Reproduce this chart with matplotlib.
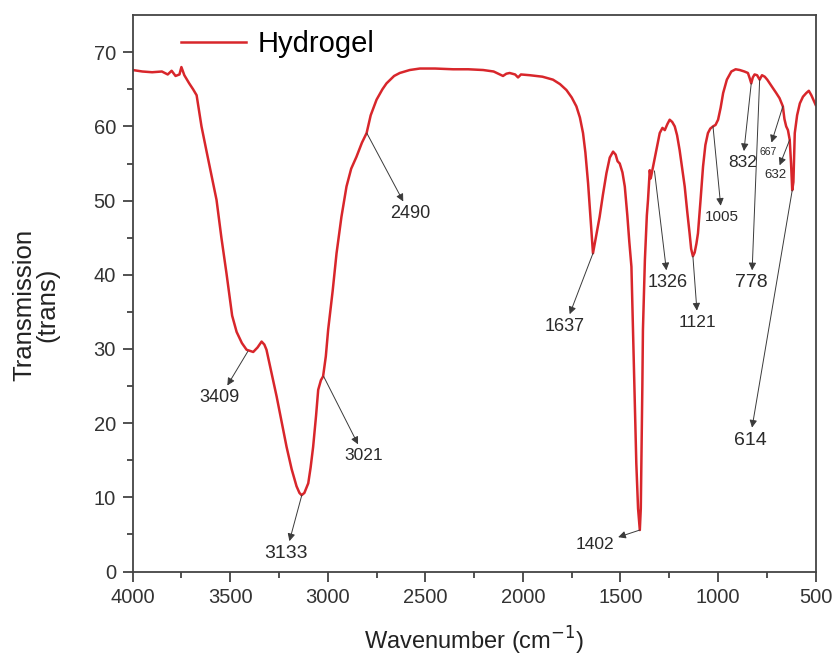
import matplotlib
matplotlib.use("Agg")
import matplotlib.pyplot as plt

plt.rcParams['font.family'] = ['Liberation Sans', 'DejaVu Sans']

# spectrum (cm-1, transmission)
wavenumber = [4000, 3950, 3900, 3850, 3820, 3800, 3780, 3760, 3750, 3735, 3710, 3690,
              3672, 3655, 3647, 3620, 3570, 3545, 3519, 3490, 3467, 3440, 3416, 3382,
              3360, 3339, 3325, 3314, 3290, 3262, 3235, 3211, 3185, 3160, 3145, 3134,
              3120, 3100, 3088, 3075, 3060, 3049, 3035, 3024, 3010, 2998, 2975, 2955,
              2930, 2904, 2880, 2853, 2825, 2801, 2780, 2750, 2720, 2699, 2660, 2631,
              2580, 2528, 2450, 2358, 2280, 2204, 2150, 2102, 2085, 2068, 2040, 2025,
              2010, 1965, 1900, 1846, 1810, 1777, 1750, 1726, 1708, 1692, 1680, 1666,
              1652, 1641, 1630, 1620, 1607, 1590, 1572, 1555, 1538, 1525, 1515, 1504,
              1490, 1478, 1465, 1455, 1444, 1436, 1427, 1419, 1410, 1401, 1396, 1393,
              1388, 1385, 1375, 1365, 1359, 1350, 1345, 1333, 1316, 1299, 1285, 1273,
              1260, 1248, 1235, 1222, 1210, 1197, 1185, 1171, 1158, 1146, 1138, 1129,
              1120, 1111, 1103, 1090, 1077, 1065, 1052, 1040, 1026, 1013, 1000, 987,
              974, 955, 932, 910, 889, 865, 847, 838, 830, 822, 813, 800,
              787, 775, 761, 748, 735, 720, 702, 685, 668, 660, 651, 642,
              633, 626, 620, 614, 607, 595, 581, 565, 548, 535, 522, 510, 500]
transmission = [67.6, 67.4, 67.3, 67.4, 67.0, 67.5, 66.8, 67.0, 68.0, 66.9, 65.8, 65.0,
                64.2, 61.3, 60.0, 56.5, 50.1, 45.0, 40.2, 34.5, 32.3, 30.8, 29.9, 29.6,
                30.2, 31.0, 30.6, 29.9, 27.0, 23.6, 20.0, 16.8, 13.8, 11.5, 10.6, 10.3,
                10.6, 11.9, 14.0, 16.8, 21.0, 24.5, 25.8, 26.3, 29.0, 32.6, 37.8, 42.9,
                47.8, 51.9, 54.3, 55.9, 57.8, 59.1, 61.5, 63.6, 65.0, 65.8, 66.8, 67.2,
                67.6, 67.8, 67.8, 67.7, 67.7, 67.6, 67.4, 66.8, 67.1, 67.2, 67.0, 66.6,
                67.0, 66.9, 66.7, 66.3, 65.7, 64.9, 63.9, 62.7, 61.2, 59.1, 56.5, 52.3,
                47.0, 42.9, 44.5, 46.0, 47.8, 50.8, 53.7, 55.8, 56.6, 56.2, 55.3, 55.0,
                53.8, 51.9, 48.0, 44.5, 41.1, 32.6, 23.0, 14.6, 8.5, 5.6, 8.5, 14.6,
                25.0, 32.6, 42.0, 48.0, 50.1, 54.1, 53.0, 54.6, 56.8, 59.1, 59.8, 59.5,
                60.3, 60.9, 60.6, 60.0, 58.8, 56.8, 54.5, 51.9, 48.5, 45.6, 43.5, 42.5,
                43.0, 44.2, 45.6, 50.0, 54.6, 57.5, 59.1, 59.7, 60.0, 60.2, 60.9, 62.5,
                64.5, 66.3, 67.4, 67.7, 67.6, 67.4, 67.2, 66.5, 65.8, 66.6, 67.0, 66.9,
                66.3, 66.9, 66.7, 66.3, 65.8, 65.2, 64.5, 63.8, 62.7, 61.0, 60.0, 59.5,
                58.2, 55.0, 51.4, 52.5, 59.1, 61.5, 63.1, 64.0, 64.5, 64.8, 64.2, 63.5, 62.9]

# peak labels: text, point on curve, label position, font size
peak_labels = ['3409', '3133', '3021', '2490', '1637', '1402', '1326', '1121',
               '1005', '832', '778', '667', '632', '614']
peak_xy = [(3409, 29.7), (3133, 10.3), (3021, 26.3), (2800, 59.1), (1641, 42.9),
           (1401, 5.6), (1326, 54.0), (1129, 42.5), (1026, 60.0), (830, 65.8),
           (787, 66.3), (668, 62.7), (633, 58.2), (620, 51.4)]
label_xy = [(3553, 23.4), (3214, 2.4), (2815, 15.6), (2579, 48.2), (1785, 33.0),
            (1632, 3.6), (1257, 38.9), (1104, 33.6), (981, 47.8), (874, 55.1),
            (828, 38.9), (741, 56.6), (705, 53.4), (837, 17.7)]
label_size = [13, 14, 12.5, 13, 13, 12.5, 13, 12.5, 11, 12.5, 14, 7.5, 9.5, 14]

fig = plt.figure(figsize=(8.34, 6.57), dpi=100)
ax = fig.add_axes([0.159, 0.130, 0.819, 0.847])

ax.plot(wavenumber, transmission, color='#d8262b', lw=1.8, label='Hydrogel')

for lab, p, t, fs in zip(peak_labels, peak_xy, label_xy, label_size):
    ax.annotate(lab, xy=p, xytext=t, ha='center', va='center',
                fontsize=fs, color='#2a2a2a',
                arrowprops=dict(arrowstyle='<|-', color='#3a3a3a', lw=0.7,
                                mutation_scale=11, shrinkA=1, shrinkB=0))

ax.set_xlim(4000, 500)
ax.set_ylim(0, 75)
ax.set_xticks(range(4000, 499, -500))
ax.set_xticks(range(3750, 500, -500), minor=True)
ax.set_yticks(range(0, 71, 10))
ax.set_yticks(range(5, 75, 10), minor=True)
ax.tick_params(which='both', direction='out', top=False, right=False,
               labelsize=14.5, colors='#333333', width=1.2)
ax.tick_params(which='major', length=7, pad=5)
ax.tick_params(which='minor', length=4)
for s in ax.spines.values():
    s.set_linewidth(1.3)
    s.set_color('#444444')

ax.set_xlabel('Wavenumber (cm$^{-1}$)', fontsize=17, color='#222222')
ax.xaxis.set_label_coords(0.5, -0.095)
ax.set_ylabel('Transmission\n(trans)', fontsize=18.5, color='#222222',
              linespacing=0.95)
ax.yaxis.set_label_coords(-0.107, 0.479)

ax.legend(loc='upper left', bbox_to_anchor=(0.033, 1.02), frameon=False,
          fontsize=21, handlelength=2.2, handletextpad=0.4)

fig.savefig('out.png', dpi=100)
